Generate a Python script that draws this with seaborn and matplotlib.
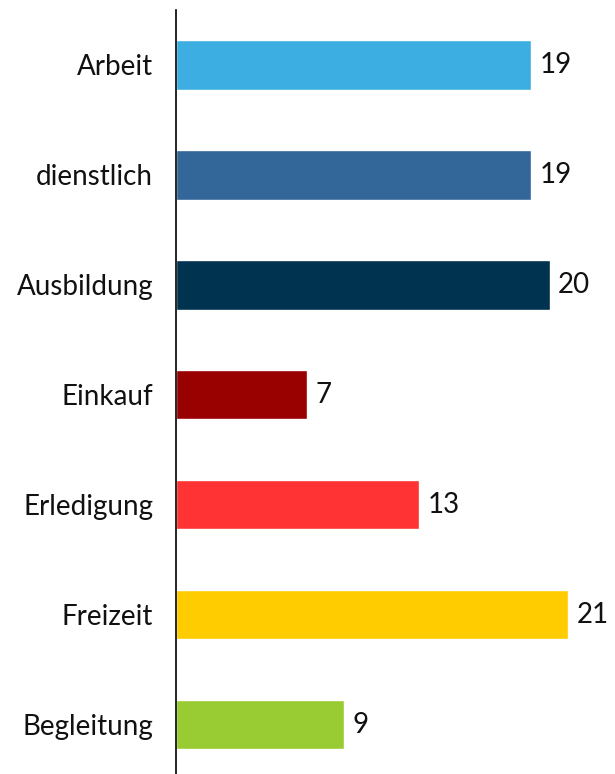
import matplotlib
matplotlib.use("Agg")
import matplotlib.pyplot as plt
import seaborn as sns
import pandas as pd

# Daten
kategorien = ["Arbeit", "dienstlich", "Ausbildung", "Einkauf", "Erledigung", "Freizeit", "Begleitung"]
werte = [19, 19, 20, 7, 13, 21, 9]
farben = ["#3daee2", "#336699", "#003350", "#990000", "#ff3333", "#ffcc00", "#99cc33"]

sns.set_theme(style="white")
plt.rcParams["font.family"] = ["Lato", "DejaVu Sans"]

df = pd.DataFrame({"Kategorie": kategorien, "Wert": werte})

fig = plt.figure(figsize=(6.15, 7.74), dpi=100)
ax = fig.add_axes([176 / 615, 0.0, 1 - 176 / 615, 1 - 10 / 774])

sns.barplot(data=df, x="Wert", y="Kategorie", hue="Kategorie", palette=farben,
            order=kategorien, width=0.45, legend=False, ax=ax, saturation=1)

for i, v in enumerate(werte):
    ax.text(v + 0.45, i, str(v), va="center", ha="left", fontsize=20, color="#111111")

ax.set_xlim(0, 23.5)
ax.set_ylim(6.45, -0.5)
ax.set_xlabel("")
ax.set_ylabel("")
ax.set_xticks([])
ax.tick_params(axis="y", length=0, pad=16.5, labelsize=20, labelcolor="#111111")
for s in ["top", "right", "bottom"]:
    ax.spines[s].set_visible(False)
ax.spines["left"].set_color("#000000")
ax.spines["left"].set_linewidth(1.2)

fig.savefig("out.png", dpi=100)
